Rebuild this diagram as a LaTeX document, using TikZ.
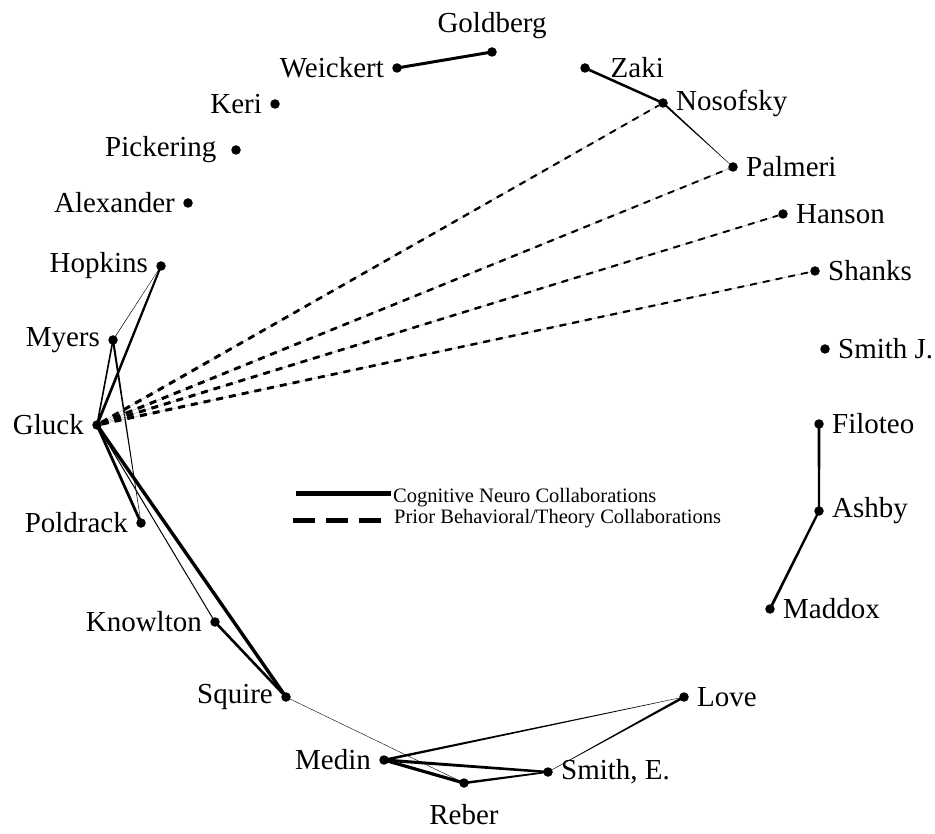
\documentclass[tikz,border=0pt]{standalone}
\usepackage{fontspec}
\setmainfont{Liberation Serif}
\usetikzlibrary{calc}

% tapered edge: from, to, half width at each end
\newcommand{\taperedge}[4]{%
  \fill ($(#1)!#3!90:(#2)$) -- ($(#2)!#4!-90:(#1)$)
     -- ($(#2)!#4!90:(#1)$) -- ($(#1)!#3!-90:(#2)$) -- cycle;}
% dashed tapered edge over a faint solid line
\newcommand{\taperdash}[4]{%
  \draw[faint] (#1) -- (#2);
  \begin{scope}
    \clip ($(#1)!#3!90:(#2)$) -- ($(#2)!#4!-90:(#1)$)
       -- ($(#2)!#4!90:(#1)$) -- ($(#1)!#3!-90:(#2)$) -- cycle;
    \draw[prior] (#1) -- (#2);
  \end{scope}}

\begin{document}
\begin{tikzpicture}[
  x=1pt, y=-1pt,
  dot/.style={circle, fill=black, inner sep=0pt, minimum size=9.5pt},
  every label/.style={font=\fontsize{29}{34}\selectfont, inner sep=0.5pt},
  label distance=7.5pt,
  faint/.style={draw=black!30, line width=0.5pt},
  prior/.style={draw=black, line width=4pt, dash pattern=on 7pt off 6pt},
  legtext/.style={font=\fontsize{20.5}{24}\selectfont, inner sep=0pt, anchor=base west}
]
  \useasboundingbox (0,0) rectangle (935,834);

  \node[dot, label=above:Goldberg] (goldberg) at (492,52) {};
  \node[dot, label=left:Weickert] (weickert) at (397,68) {};
  \node[dot, label={[label distance=20pt]right:Zaki}] (zaki) at (585,68) {};
  \node[dot, label=right:Nosofsky] (nosofsky) at (663,103) {};
  \node[dot, label=left:Keri] (keri) at (275,104) {};
  \node[dot, label={[label distance=14pt]left:Pickering}] (pickering) at (236,150) {};
  \node[dot, label=right:Palmeri] (palmeri) at (733,167) {};
  \node[dot, label=left:Alexander] (alexander) at (188,203) {};
  \node[dot, label=right:Hanson] (hanson) at (783,214) {};
  \node[dot, label=left:Hopkins] (hopkins) at (161,266) {};
  \node[dot, label=right:Shanks] (shanks) at (815,271) {};
  \node[dot, label=left:Myers] (myers) at (113,340) {};
  \node[dot, label=right:Smith J.] (smithj) at (825,349) {};
  \node[dot, label=left:Gluck] (gluck) at (97,425) {};
  \node[dot, label=right:Filoteo] (filoteo) at (819,424) {};
  \node[dot, label=left:Poldrack] (poldrack) at (141,523) {};
  \node[dot, label=right:Ashby] (ashby) at (819,511) {};
  \node[dot, label=right:Maddox] (maddox) at (770,609) {};
  \node[dot, label=left:Knowlton] (knowlton) at (215,622) {};
  \node[dot, label=left:Squire] (squire) at (286,697) {};
  \node[dot, label=right:Love] (love) at (684,697) {};
  \node[dot, label=left:Medin] (medin) at (384,760) {};
  \node[dot, label={right:{Smith, E.}}] (smithe) at (548,772) {};
  \node[dot, label={[label distance=16pt]below:Reber}] (reber) at (464,783) {};

  % cognitive neuro collaborations
  \foreach \a/\b/\wa/\wb in {weickert/goldberg/1.5pt/1.5pt, zaki/nosofsky/1.3pt/1.2pt,
      nosofsky/palmeri/1pt/0.15pt, filoteo/ashby/1.5pt/1pt, ashby/maddox/1.1pt/1.4pt,
      hopkins/myers/0.15pt/0.3pt, hopkins/gluck/1pt/1.4pt, myers/gluck/0.8pt/0.8pt,
      myers/poldrack/1.1pt/0.15pt, gluck/poldrack/1.4pt/1.4pt, gluck/knowlton/0.5pt/0.5pt,
      gluck/squire/1.7pt/1.7pt, knowlton/squire/1.3pt/1.3pt, squire/reber/0.2pt/0.2pt,
      medin/reber/1.6pt/1.6pt, medin/smithe/1.6pt/1.2pt, reber/smithe/1.3pt/0.8pt,
      medin/love/1.3pt/0.15pt, smithe/love/0.15pt/1.3pt}
    \taperedge{\a}{\b}{\wa}{\wb};

  % prior behavioral/theory collaborations
  \foreach \b in {nosofsky,palmeri,hanson,shanks}
    \taperdash{gluck}{\b}{1.6pt}{0.9pt};

  % legend
  \coordinate (solidstart) at (296,493);
  \coordinate (solidend) at (391,493);
  \coordinate (dashstart) at (293,520);
  \coordinate (dashend) at (381,520);
  \node[legtext] (neurotext) at (393,502) {Cognitive Neuro Collaborations};
  \node[legtext] (priortext) at (394,523) {Prior Behavioral/Theory Collaborations};
  \draw[line width=5pt] (solidstart) -- (solidend);
  \draw[line width=5pt, dash pattern=on 22pt off 11pt] (dashstart) -- (dashend);
\end{tikzpicture}
\end{document}
